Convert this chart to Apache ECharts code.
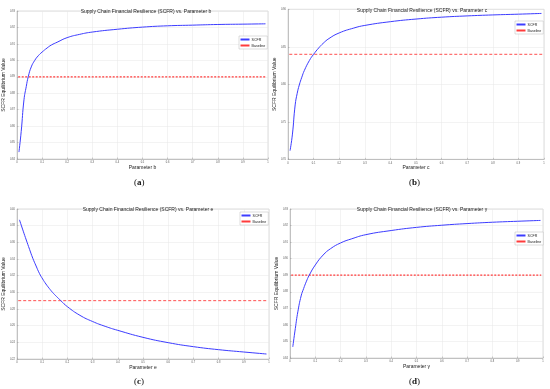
<!DOCTYPE html>
<html>
<head>
<meta charset="utf-8">
<script src="https://cdn.jsdelivr.net/npm/echarts@6/dist/echarts.min.js"></script>
<style>html,body{margin:0;padding:0;background:#fff;}#c{width:550px;height:389px;}</style>
</head>
<body>
<div id="c"></div>
<script>
// Panel (a): parameter b
const xB = [0.008,0.017,0.028,0.037,0.045,0.057,0.071,0.085,0.10,0.12,0.137,0.16,0.20,0.25,0.30,0.40,0.50,0.60,0.70,0.80,0.90,0.99];
const scfrB = [0.8442,0.8568,0.876,0.884,0.890,0.896,0.900,0.9028,0.905,0.9075,0.9093,0.911,0.9138,0.9158,0.9172,0.9189,0.9202,0.921,0.9214,0.9218,0.922,0.9222];
const baseB = 0.89;
// Panel (b): parameter c
const xC = [0.008,0.017,0.028,0.036,0.044,0.054,0.064,0.084,0.10,0.12,0.137,0.16,0.20,0.257,0.30,0.40,0.50,0.60,0.70,0.80,0.90,0.99];
const scfrC = [0.7115,0.7325,0.7725,0.788,0.799,0.8095,0.8185,0.832,0.840,0.8485,0.8545,0.861,0.8685,0.875,0.8785,0.8835,0.887,0.8895,0.8912,0.8925,0.8935,0.8945];
const baseC = 0.84;
// Panel (c): parameter e
const xE = [0.01,0.025,0.037,0.05,0.063,0.076,0.089,0.102,0.115,0.128,0.141,0.157,0.174,0.20,0.25,0.30,0.35,0.40,0.50,0.60,0.70,0.80,0.90,0.99];
const scfrE = [0.387,0.3734,0.3628,0.3516,0.3408,0.3316,0.3228,0.316,0.310,0.3048,0.300,0.295,0.290,0.2828,0.2724,0.265,0.2592,0.2544,0.246,0.2396,0.2348,0.2312,0.2284,0.226];
const baseE = 0.29;
// Panel (d): parameter gamma
const xG = [0.011,0.021,0.031,0.044,0.054,0.064,0.076,0.10,0.131,0.16,0.20,0.244,0.30,0.40,0.50,0.60,0.70,0.80,0.90,0.99];
const scfrG = [0.8467,0.8578,0.8679,0.8775,0.882,0.886,0.890,0.8962,0.9022,0.906,0.9095,0.912,0.9145,0.917,0.9189,0.9202,0.9212,0.922,0.9226,0.9231];
const baseG = 0.89;

const xTicks = [0,0.1,0.2,0.3,0.4,0.5,0.6,0.7,0.8,0.9,1];
const panelNames = ['b','c','e','\u03b3'];
const captions = ['a','b','c','d'];
const yRanges = [[0.84,0.93,0.01],[0.70,0.90,0.05],[0.22,0.40,0.02],[0.84,0.93,0.01]];
const xs = [xB, xC, xE, xG];
const series = [scfrB, scfrC, scfrE, scfrG];
const baselines = [baseB, baseC, baseE, baseG];

const grids = [
  {left:15, top:11, width:253, height:148},
  {left:288, top:9.3, width:256, height:150},
  {left:14, top:209, width:255, height:150},
  {left:290, top:209, width:253, height:149}
];
const titlePos = [[141,4],[417,3],[143,202],[417,202]];
const legendPos = [[239,36],[515,21],[240,212],[515,232]];
const capPos = [[141,183],[416,183],[141,382],[416,382]];

const FONT = '"Liberation Sans", Arial, sans-serif';
const option = {
  animation:false,
  backgroundColor:'#fff',
  title: panelNames.map((p,i)=>({
    text:'Supply Chain Financial Resilience (SCFR) vs. Parameter '+p,
    left:titlePos[i][0], top:titlePos[i][1], textAlign:'center',
    textStyle:{fontSize:5, fontWeight:'normal', color:'#222', fontFamily:FONT}
  })),
  grid: grids.map(g=>Object.assign({show:true, borderColor:'#bbb', borderWidth:0.5, backgroundColor:'#fff'}, g)),
  legend: legendPos.map((lp,i)=>({
    data:['SCFR','Baseline'], orient:'vertical', left:lp[0], top:lp[1],
    itemWidth:9, itemHeight:2, itemGap:2, padding:[1.5,2,1.5,1.5],
    borderColor:'#bbb', borderWidth:0.5, backgroundColor:'#fff',
    textStyle:{fontSize:3.6, color:'#222', fontFamily:FONT, padding:[0,0,0,-3]},
    icon:'rect'
  })),
  xAxis: panelNames.map((p,i)=>({
    type:'value', gridIndex:i, min:xTicks[0], max:xTicks[xTicks.length-1], interval:0.1,
    name:'Parameter '+p, nameLocation:'middle', nameGap:5,
    nameTextStyle:{fontSize:5, color:'#222', fontFamily:FONT},
    axisLine:{show:true, lineStyle:{color:'#999', width:0.5}},
    axisTick:{show:true, inside:true, length:1.5, lineStyle:{color:'#999', width:0.5}},
    axisLabel:{fontSize:2.6, color:'#555', margin:2, fontFamily:FONT, formatter:v=>String(+v.toFixed(2))},
    splitLine:{show:true, lineStyle:{color:'#e6e6e6', width:0.5}}
  })),
  yAxis: yRanges.map((r,i)=>({
    type:'value', gridIndex:i, min:r[0], max:r[1], interval:r[2],
    name:'SCFR Equilibrium Value', nameLocation:'middle', nameGap:5,
    nameTextStyle:{fontSize:5, color:'#222', fontFamily:FONT},
    axisLine:{show:true, lineStyle:{color:'#999', width:0.5}},
    axisTick:{show:true, inside:true, length:1.5, lineStyle:{color:'#999', width:0.5}},
    axisLabel:{fontSize:2.6, color:'#555', margin:2, fontFamily:FONT, formatter:v=>(+v.toFixed(3)).toFixed(2)},
    splitLine:{show:true, lineStyle:{color:'#e6e6e6', width:0.5}}
  })),
  series: [].concat(...series.map((s,i)=>[
    {name:'SCFR', type:'line', xAxisIndex:i, yAxisIndex:i, smooth:0.5, showSymbol:false, symbol:'none',
     data: xs[i].map((x,k)=>[x,s[k]]), lineStyle:{color:'#3c3cff', width:1}, itemStyle:{color:'#3c3cff'}, z:3},
    {name:'Baseline', type:'line', xAxisIndex:i, yAxisIndex:i, showSymbol:false, symbol:'none',
     data:[[0.005,baselines[i]],[0.993,baselines[i]]],
     lineStyle:{color:'#ff3b3b', width:(i===0||i===3)?1.2:0.9, type:(i===0||i===3)?[2,1.5]:[3,2]}, itemStyle:{color:'#ff3b3b'}, z:2}
  ])),
  graphic: captions.map((c,i)=>({
    type:'text', left:capPos[i][0]-7, top:capPos[i][1]-5,
    style:{text:'{n|(}{b|'+c+'}{n|)}', rich:{
      n:{fontSize:9, fontFamily:'"Liberation Serif", serif', fill:'#111'},
      b:{fontSize:9, fontWeight:'bold', fontFamily:'"Liberation Serif", serif', fill:'#111'}}}
  }))
};
echarts.init(document.getElementById('c')).setOption(option);
</script>
</body>
</html>
